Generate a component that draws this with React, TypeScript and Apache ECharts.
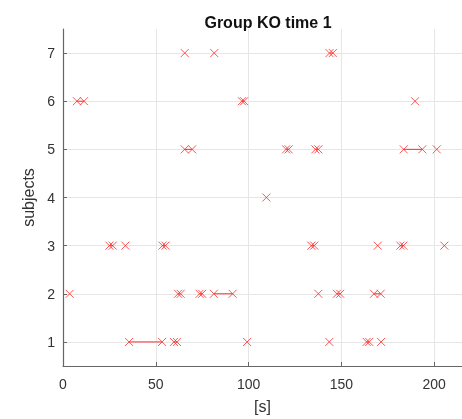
import React, { useEffect, useRef } from "react";
import * as echarts from "echarts";

// Events per subject: [start, end] in seconds
const subject1: number[][] = [[35.6, 53.4], [59.8, 61.4], [99.2, 99.2], [143.5, 143.5], [163.6, 165.0], [171.4, 171.4]];
const subject2: number[][] = [[3.6, 3.6], [62.0, 63.4], [73.6, 75.0], [81.3, 91.4], [137.6, 137.6], [147.6, 149.4], [167.6, 171.2]];
const subject3: number[][] = [[25.0, 26.8], [33.6, 33.6], [53.6, 55.2], [133.8, 135.4], [169.6, 169.6], [181.8, 183.4], [205.5, 205.5]];
const subject4: number[][] = [[109.6, 109.6]];
const subject5: number[][] = [[65.6, 69.6], [120.2, 121.6], [136.0, 137.6], [183.6, 193.6], [201.4, 201.4]];
const subject6: number[][] = [[7.5, 11.3], [96.4, 97.6], [189.7, 189.7]];
const subject7: number[][] = [[65.6, 65.6], [81.5, 81.5], [143.6, 145.4]];

const subjects = [subject1, subject2, subject3, subject4, subject5, subject6, subject7];
const yTicks = [1, 2, 3, 4, 5, 6, 7];
const xTicks = [0, 50, 100, 150, 200];

const RED = "#ff2a2a";
const AXIS = "#666666";
const TEXT = "#333333";
const FONT = "'Liberation Sans', Arial, Helvetica, sans-serif";

export default function App() {
  const ref = useRef<HTMLDivElement>(null);
  useEffect(() => {
    if (!ref.current) return;
    const chart = echarts.init(ref.current, undefined, { renderer: "svg" });

    const points: number[][] = [];
    const segSeries: any[] = [];
    subjects.forEach((events, i) => {
      const y = i + 1;
      events.forEach(([s, e]) => {
        points.push([s, y]);
        if (e !== s) {
          points.push([e, y]);
          segSeries.push({
            type: "line",
            data: [[s, y], [e, y]],
            symbol: "none",
            lineStyle: { color: RED, width: 1 },
            silent: true,
            z: 2,
          });
        }
      });
    });

    chart.setOption({
      animation: false,
      textStyle: { fontFamily: FONT },
      title: {
        text: "Group KO time 1",
        left: 263,
        textAlign: "center",
        top: 9,
        textStyle: { fontSize: 16, fontWeight: "bold", color: "#111", fontFamily: FONT },
      },
      grid: { left: 63, top: 29, width: 399, height: 341, containLabel: false },
      xAxis: {
        type: "value",
        min: 0,
        max: 215,
        name: "[s]",
        nameLocation: "middle",
        nameGap: 32,
        nameTextStyle: { fontSize: 16, color: TEXT, fontFamily: FONT },
        axisLine: { show: true, onZero: false, lineStyle: { color: AXIS, width: 1.2 } },
        axisTick: { show: true, inside: true, length: 4, customValues: xTicks, lineStyle: { color: AXIS } },
        axisLabel: { customValues: xTicks, fontSize: 14, color: TEXT, margin: 11, fontFamily: FONT },
        splitLine: { show: true, lineStyle: { color: "#e6e6e6", width: 1 } },
      },
      yAxis: {
        type: "value",
        min: 0.5,
        max: 7.5,
        name: "subjects",
        nameLocation: "middle",
        nameGap: 15,
        nameRotate: 90,
        nameTextStyle: { fontSize: 16, color: TEXT, fontFamily: FONT },
        axisLine: { show: true, onZero: false, lineStyle: { color: AXIS, width: 1.2 } },
        axisTick: { show: true, inside: true, length: 4, customValues: yTicks, lineStyle: { color: AXIS } },
        axisLabel: { customValues: yTicks, fontSize: 14, color: TEXT, margin: 8, fontFamily: FONT },
        splitLine: { show: true, lineStyle: { color: "#e6e6e6", width: 1 } },
      },
      series: [
        ...segSeries,
        {
          type: "scatter",
          data: points,
          symbol: "path://M0,0L10,10M10,0L0,10",
          symbolSize: 8,
          itemStyle: { color: "none", borderColor: RED, borderWidth: 1 },
          z: 3,
        },
      ],
    });
    return () => chart.dispose();
  }, []);
  return <div ref={ref} style={{ position: "fixed", left: 0, top: 0, width: 462, height: 419 }} />;
}
